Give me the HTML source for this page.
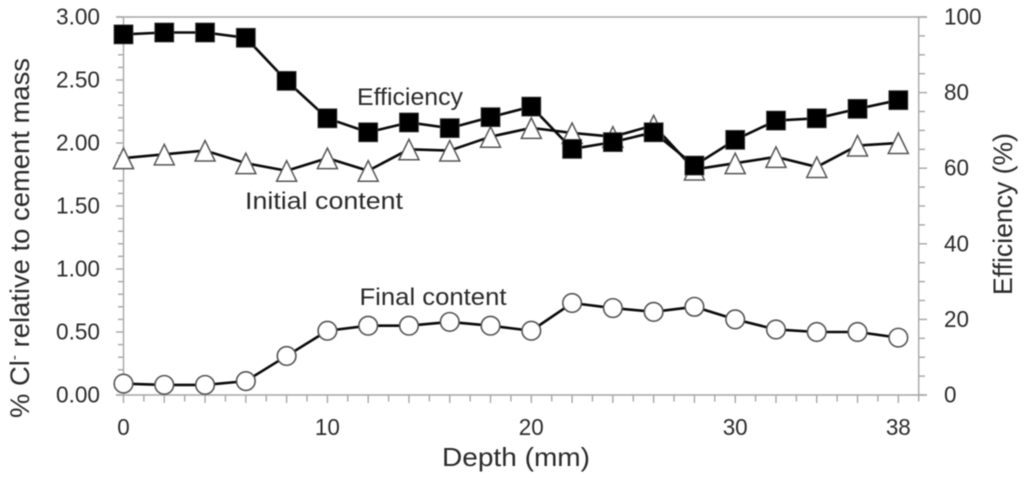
<!DOCTYPE html>
<html lang="en">
<head>
<meta charset="utf-8">
<title>Chloride content and efficiency versus depth</title>
<style>
  html, body { margin: 0; padding: 0; background: #fff; }
  #chart { display: block; width: 1024px; height: 478px; filter: blur(0.45px); }
  text { font-family: "Liberation Sans", sans-serif; fill: #2b2b2b; }
</style>
</head>
<body>
<svg id="chart" xmlns="http://www.w3.org/2000/svg" width="1024" height="478" viewBox="0 0 1024 478">
  <g id="axes"></g>
  <g id="series"></g>
  <g id="labels"></g>
  <text transform="translate(29,238) rotate(-90)" text-anchor="middle" font-size="27" textLength="360" lengthAdjust="spacingAndGlyphs">% Cl<tspan font-size="15" dy="-10">-</tspan><tspan dy="10"> relative to cement mass</tspan></text>
  <text transform="translate(1012,214) rotate(-90)" text-anchor="middle" font-size="27" textLength="162" lengthAdjust="spacingAndGlyphs">Efficiency (%)</text>
  <text x="516" y="466" text-anchor="middle" font-size="26" textLength="148" lengthAdjust="spacingAndGlyphs">Depth (mm)</text>
  <text x="410" y="105" text-anchor="middle" font-size="24" textLength="106" lengthAdjust="spacingAndGlyphs">Efficiency</text>
  <text x="324" y="209" text-anchor="middle" font-size="24" textLength="158" lengthAdjust="spacingAndGlyphs">Initial content</text>
  <text x="433" y="305" text-anchor="middle" font-size="24" textLength="147" lengthAdjust="spacingAndGlyphs">Final content</text>
</svg>
<script>
const depths = [0, 2, 4, 6, 8, 10, 12, 14, 16, 18, 20, 22, 24, 26, 28, 30, 32, 34, 36, 38];
const efficiency = [95.4, 95.9, 95.9, 94.5, 83.1, 73.2, 69.5, 72.1, 70.6, 73.5, 76.3, 65.1, 66.9, 69.5, 60.7, 67.5, 72.6, 73.2, 75.7, 78.0];
const initialContent = [1.88, 1.91, 1.94, 1.84, 1.78, 1.88, 1.78, 1.95, 1.94, 2.05, 2.12, 2.08, 2.05, 2.14, 1.79, 1.84, 1.89, 1.81, 1.98, 2.00];
const finalContent = [0.09, 0.08, 0.08, 0.11, 0.31, 0.51, 0.55, 0.55, 0.58, 0.55, 0.51, 0.73, 0.69, 0.66, 0.70, 0.60, 0.52, 0.50, 0.50, 0.455];
const xTickLabels = ["0", "10", "20", "30", "38"];
const leftTickLabels = ["0.00", "0.50", "1.00", "1.50", "2.00", "2.50", "3.00"];
const rightTickLabels = ["0", "20", "40", "60", "80", "100"];

const NS = "http://www.w3.org/2000/svg";
const PLOT = { x0: 123.5, pxPerMm: 20.39, top: 17, bottom: 395, leftMax: 3, rightMax: 100, xMax: 39 };
const xScale = v => PLOT.x0 + v * PLOT.pxPerMm;
const leftScale = v => PLOT.bottom - (v / PLOT.leftMax) * (PLOT.bottom - PLOT.top);
const rightScale = v => PLOT.bottom - (v / PLOT.rightMax) * (PLOT.bottom - PLOT.top);

const axes = document.getElementById("axes");
const seriesGroup = document.getElementById("series");
const labels = document.getElementById("labels");

function make(tag, attrs, parent) {
  const el = document.createElementNS(NS, tag);
  for (const k in attrs) el.setAttribute(k, attrs[k]);
  parent.appendChild(el);
  return el;
}

function axisLine(x1, y1, x2, y2, parent) {
  return make("line", { x1, y1, x2, y2, stroke: "#a6a6a6", "stroke-width": 1.4 }, parent);
}

/* Frame */
const leftAxis = axisLine(xScale(0), PLOT.top, xScale(0), PLOT.bottom, axes);


const rightAxis = axisLine(xScale(PLOT.xMax), PLOT.top, xScale(PLOT.xMax), PLOT.bottom, axes);


const topAxis = axisLine(116, PLOT.top, 927, PLOT.top, axes);


const bottomAxis = axisLine(116, PLOT.bottom, xScale(PLOT.xMax) + 8, PLOT.bottom, axes);



/* X ticks every 1 mm */
for (let v = 0; v <= PLOT.xMax; v++) {
  const t = axisLine(xScale(v), PLOT.bottom, xScale(v), PLOT.bottom + (v % 2 === 0 ? 8 : 6.5), axes);
  
  
}
/* Left ticks every 0.1 */
for (let i = 0; i <= 30; i++) {
  const y = leftScale(i / 10);
  const t = axisLine(i % 5 === 0 ? 116 : 118, y, xScale(0), y, axes);
  
  
}
/* Right ticks every 5 */
for (let i = 0; i <= 100; i += 5) {
  const y = rightScale(i);
  const t = axisLine(xScale(PLOT.xMax), y, i % 20 === 0 ? 927 : 925, y, axes);
  
  
}

/* Tick labels */
xTickLabels.forEach(s => {
  const t = make("text", { x: xScale(parseFloat(s)), y: 435, "text-anchor": "middle", "font-size": 23, textLength: s.length * 12.5, lengthAdjust: "spacingAndGlyphs" }, labels);
  
  
  t.textContent = s;
});
leftTickLabels.forEach(s => {
  const t = make("text", { x: 100, y: leftScale(parseFloat(s)) + 7.5, "text-anchor": "end", "font-size": 23, textLength: 44, lengthAdjust: "spacingAndGlyphs" }, labels);
  
  
  t.textContent = s;
});
rightTickLabels.forEach(s => {
  const t = make("text", { x: 944, y: rightScale(parseFloat(s)) + 7.5, "text-anchor": "start", "font-size": 23, textLength: s.length * 12.5, lengthAdjust: "spacingAndGlyphs" }, labels);
  
  
  t.textContent = s;
});

function seriesLine(values, yScale, parent) {
  const pts = values.map((v, i) => xScale(depths[i]) + "," + yScale(v)).join(" ");
  return make("polyline", { points: pts, fill: "none", stroke: "#0a0a0a", "stroke-width": 2.6, "stroke-linejoin": "round" }, parent);
}

/* Initial content: triangles */
const initialGroup = make("g", {}, seriesGroup);


const initialLine = seriesLine(initialContent, leftScale, initialGroup);


initialContent.forEach((v, i) => {
  const cx = xScale(depths[i]);
  const cy = leftScale(v);
  const p = make("polygon", {
    points: cx + "," + (cy - 10) + " " + (cx + 10) + "," + (cy + 10.5) + " " + (cx - 10) + "," + (cy + 10.5),
    fill: "#fff", stroke: "#555", "stroke-width": 1.5
  }, initialGroup);
  
  
});

/* Efficiency: squares */
const efficiencyGroup = make("g", {}, seriesGroup);


const efficiencyLine = seriesLine(efficiency, rightScale, efficiencyGroup);


efficiency.forEach((v, i) => {
  const r = make("rect", {
    x: xScale(depths[i]) - 9.5, y: rightScale(v) - 9.5, width: 19, height: 19,
    fill: "#000", stroke: "#444", "stroke-width": 0.8
  }, efficiencyGroup);
  
  
});

/* Final content: circles */
const finalGroup = make("g", {}, seriesGroup);


const finalLine = seriesLine(finalContent, leftScale, finalGroup);


finalContent.forEach((v, i) => {
  const c = make("circle", {
    cx: xScale(depths[i]), cy: leftScale(v), r: 9.3,
    fill: "#fff", stroke: "#555", "stroke-width": 1.6
  }, finalGroup);
  
  
});
</script>
</body>
</html>
